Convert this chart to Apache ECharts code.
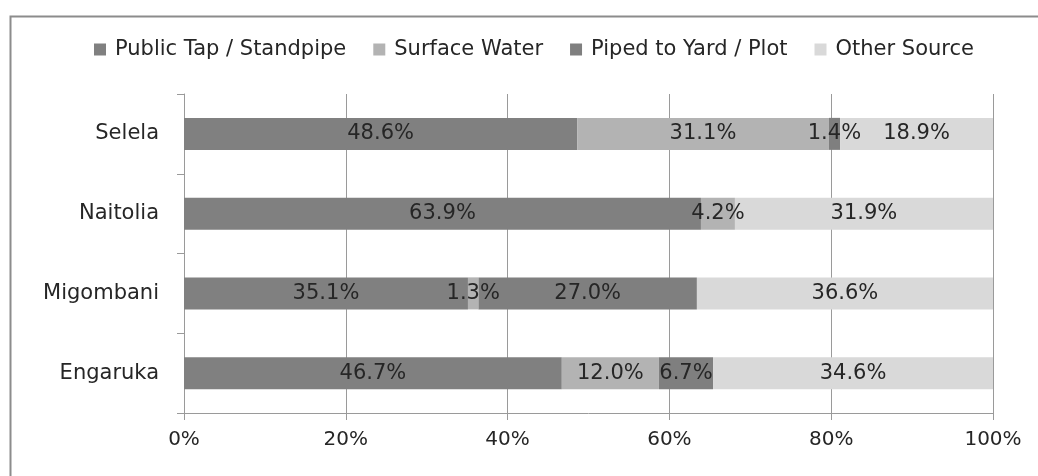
<!DOCTYPE html>
<html lang="en">
<head>
    <meta charset="UTF-8">
    <title>Water sources</title>
    <script src="https://cdn.jsdelivr.net/npm/echarts@6/dist/echarts.min.js"></script>
    <style>
        html, body { margin: 0; padding: 0; background: #fff; }
    </style>
</head>
<body>
<div id="barDiv" style="width: 1038px;height:476px;"></div>
<script>
    var villages = ['Selela', 'Naitolia', 'Migombani', 'Engaruka'];
    var publicTap = [48.6, 63.9, 35.1, 46.7];
    var surfaceWater = [31.1, 4.2, 1.3, 12.0];
    var pipedYard = [1.4, 0, 27.0, 6.7];
    var otherSource = [18.9, 31.9, 36.6, 34.6];
    var xTicks = [0, 20, 40, 60, 80, 100];

    var font = 'DejaVu Sans';
    var textColor = '#262626';

    function makeSeries(name, data, color) {
        return {
            name: name,
            type: 'bar',
            stack: 'total',
            barWidth: 32,
            data: data,
            itemStyle: { color: color },
            label: {
                show: true,
                position: 'inside',
                color: textColor,
                fontFamily: font,
                fontSize: 21,
                formatter: function (p) {
                    return p.value > 0 ? p.value.toFixed(1) + '%' : '';
                }
            }
        };
    }

    var mycharts = echarts.init(document.getElementById('barDiv'));
    var option = {
        animation: false,
        graphic: [{
            type: 'rect',
            left: 8, top: 14,
            shape: { width: 1200, height: 600 },
            style: { fill: 'none', stroke: '#8c8c8c', lineWidth: 2 },
            z: -1
        }],
        legend: {
            left: 89,
            top: 34,
            itemWidth: 12,
            itemHeight: 12,
            itemGap: 27,
            icon: 'rect',
            textStyle: { color: textColor, fontFamily: font, fontSize: 21, padding: [0, 0, 0, 4] },
            data: ['Public Tap / Standpipe', 'Surface Water', 'Piped to Yard / Plot', 'Other Source']
        },
        grid: { left: 184, right: 45, top: 94, bottom: 63 },
        xAxis: {
            type: 'value',
            min: xTicks[0],
            max: xTicks[xTicks.length - 1],
            interval: 20,
            axisLine: { show: true, lineStyle: { color: '#9a9a9a', width: 1 } },
            axisTick: { show: true, length: 7, lineStyle: { color: '#9a9a9a' } },
            splitLine: { show: true, lineStyle: { color: '#9a9a9a', width: 1 } },
            axisLabel: {
                margin: 17,
                color: textColor,
                fontFamily: font,
                fontSize: 20,
                formatter: '{value}%'
            }
        },
        yAxis: {
            type: 'category',
            inverse: true,
            data: villages,
            axisLine: { show: true, lineStyle: { color: '#9a9a9a', width: 1 } },
            axisTick: { show: true, length: 7, lineStyle: { color: '#9a9a9a' } },
            axisLabel: {
                margin: 25,
                color: textColor,
                fontFamily: font,
                fontSize: 21
            }
        },
        series: [
            makeSeries('Public Tap / Standpipe', publicTap, '#808080'),
            makeSeries('Surface Water', surfaceWater, '#b3b3b3'),
            makeSeries('Piped to Yard / Plot', pipedYard, '#7f7f7f'),
            makeSeries('Other Source', otherSource, '#d9d9d9')
        ]
    };
    mycharts.setOption(option);
</script>
</body>
</html>
